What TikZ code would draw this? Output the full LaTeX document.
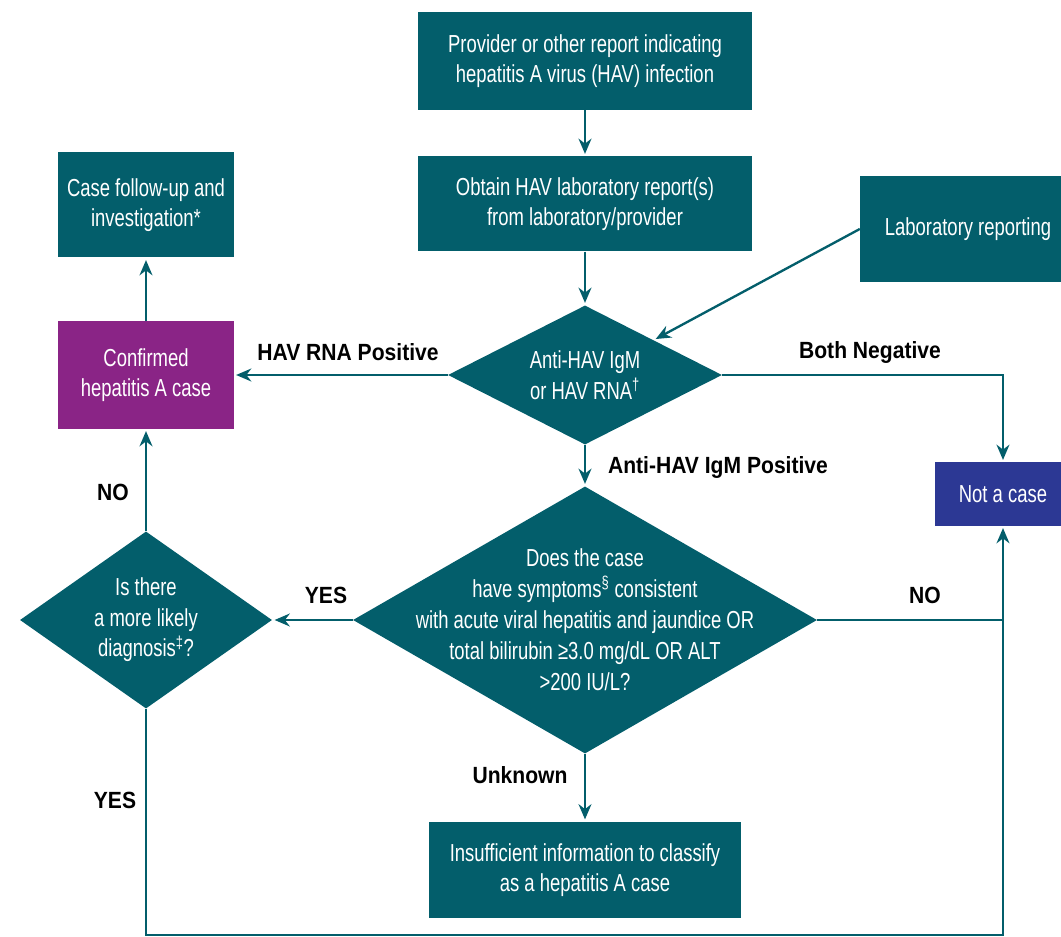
\documentclass[tikz,border=0pt]{standalone}
\usepackage{fontspec}
\setmainfont{Liberation Sans}[FakeStretch=0.75]
\newfontfamily\lblfont{Liberation Sans}[FakeStretch=0.9]
\usetikzlibrary{shapes.geometric,arrows.meta}
\definecolor{hteal}{RGB}{3,94,107}
\definecolor{hpurple}{RGB}{138,36,134}
\definecolor{hblue}{RGB}{44,56,148}
\begin{document}
\begin{tikzpicture}[x=0.03cm,y=-0.03cm,
  box/.style={rectangle,fill=#1,text=white,align=center,inner sep=0pt,
    font=\fontsize{21}{26}\selectfont},
  dia/.style={diamond,fill=hteal,inner sep=0pt},
  dtext/.style={text=white,align=center,font=\fontsize{21}{26}\selectfont},
  lbl/.style={font=\lblfont\bfseries\fontsize{20}{24}\selectfont},
  line/.style={draw=hteal,line width=2pt},
  arr/.style={line,-{Stealth[length=13pt,width=11pt]},shorten >=2pt}]
\useasboundingbox (0,0) rectangle (1061,937);
% boxes
\node[box=hteal,minimum width=10.02cm,minimum height=2.94cm] (prov) at (585,61)
  {Provider or other report indicating\\hepatitis A virus (HAV) infection};
\node[box=hteal,minimum width=10.02cm,minimum height=2.85cm] (obtain) at (585,204)
  {Obtain HAV laboratory report(s)\\from laboratory/provider};
\node[box=hteal,minimum width=6.48cm,minimum height=3.18cm] (lab) at (968,229)
  {Laboratory reporting};
\node[box=hteal,minimum width=5.25cm,minimum height=3.15cm] (follow) at (146,205)
  {Case follow-up and\\investigation*};
\node[box=hpurple,minimum width=5.25cm,minimum height=3.21cm] (conf) at (146,375)
  {Confirmed\\hepatitis A case};
\node[box=hblue,minimum width=4.08cm,minimum height=1.89cm] (nc) at (1003,494)
  {Not a case};
\node[box=hteal,minimum width=9.33cm,minimum height=2.88cm] (insuf) at (585,870)
  {Insufficient information to classify\\as a hepatitis A case};
% diamonds
\node[dia,minimum width=8.22cm,minimum height=4.17cm,
  label={[dtext]center:{Anti-HAV IgM\\or HAV RNA\textsuperscript{†}}}] (dia1) at (585,375) {};
\node[dia,minimum width=13.92cm,minimum height=8.01cm,
  label={[dtext,font=\fontsize{21}{26.5}\selectfont]center:{Does the case\\have symptoms\textsuperscript{§} consistent\\with acute viral hepatitis and jaundice OR\\total bilirubin ≥3.0 mg/dL OR ALT\\>200 IU/L?}}] (dia2) at (585,620) {};
\node[dia,minimum width=7.56cm,minimum height=5.31cm,
  label={[dtext]center:{Is there\\a more likely\\diagnosis\textsuperscript{‡}?}}] (dia3) at (146,620) {};
% labels
\node[lbl] (rnapos) at (348,352) {HAV RNA Positive};
\node[lbl] (bothneg) at (870,352) {Both Negative};
\node[lbl] (igmpos) at (718,467) {Anti-HAV IgM Positive};
\node[lbl] (yes1) at (326,595) {YES};
\node[lbl] (no1) at (925,595) {NO};
\node[lbl] (no2) at (113,492) {NO};
\node[lbl] (yes2) at (115,800) {YES};
\node[lbl] (unk) at (520,775) {Unknown};
% connectors
\coordinate (j) at (1003,620);
\coordinate (b) at (1003,935);
\draw[arr] (prov) -- (obtain);
\draw[arr] (obtain) -- (dia1);
\draw[arr] (lab.west) -- (dia1.north east);
\draw[arr] (dia1.west) -- (conf.east);
\draw[arr] (dia1.east) -| (nc.north);
\draw[arr] (dia1) -- (dia2);
\draw[arr] (dia2.west) -- (dia3.east);
\draw[line] (dia2.east) -- (j);
\draw[arr] (dia3) -- (conf);
\draw[arr] (conf) -- (follow);
\draw[arr] (dia3.south) |- (b) -- (nc.south);
\draw[arr] (dia2) -- (insuf);
\end{tikzpicture}
\end{document}
